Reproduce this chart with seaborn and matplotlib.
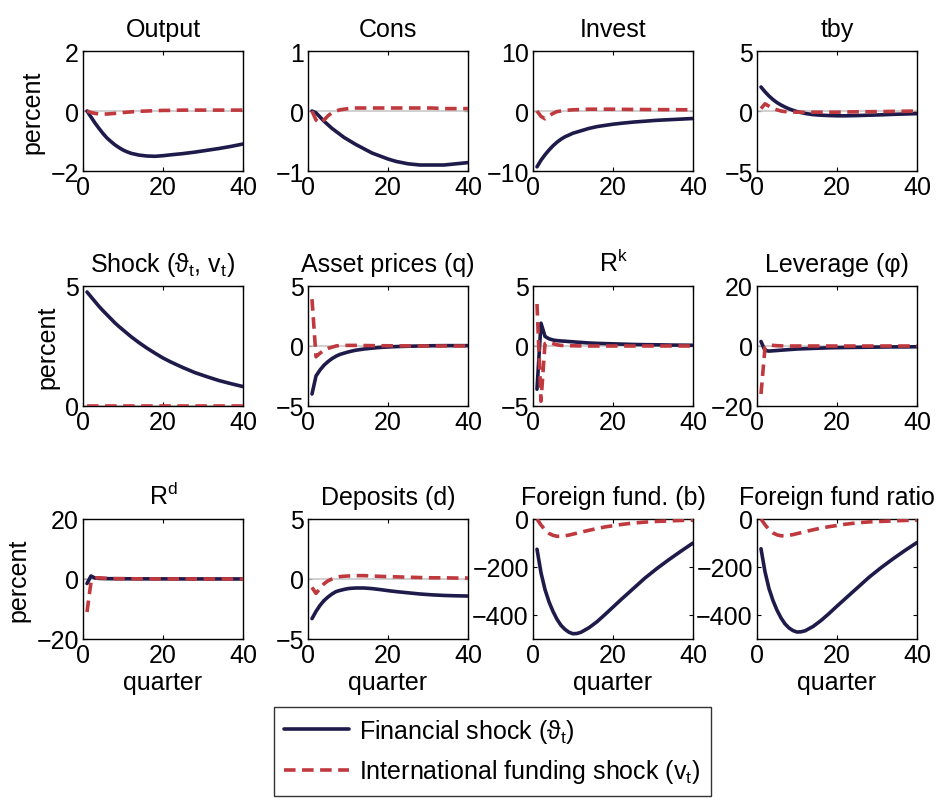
import pandas as pd
import seaborn as sns
import matplotlib.pyplot as plt
from matplotlib.lines import Line2D

quarters = [1, 2, 3, 4, 5, 6, 7, 8, 9, 10, 11, 12, 14, 16, 18, 20, 22, 25, 28, 31, 34, 37, 40]

titles = ["Output", "Cons", "Invest", "tby",
          r"Shock ($\vartheta_t$, $\mathrm{v}_t$)", "Asset prices (q)", r"R$^{\mathrm{k}}$", "Leverage (φ)",
          r"R$^{\mathrm{d}}$", "Deposits (d)", "Foreign fund. (b)", "Foreign fund ratio"]

# financial shock (theta_t)
fin_output = [0, -0.2, -0.4, -0.58, -0.75, -0.9, -1.02, -1.13, -1.22, -1.3, -1.36, -1.41, -1.47, -1.5,
              -1.51, -1.49, -1.46, -1.42, -1.37, -1.31, -1.25, -1.18, -1.1]
fin_cons = [0.0, -0.03, -0.1, -0.17, -0.23, -0.29, -0.34, -0.39, -0.44, -0.48, -0.52, -0.56, -0.63, -0.7,
            -0.75, -0.8, -0.84, -0.88, -0.9, -0.9, -0.9, -0.88, -0.86]
fin_invest = [-9.3, -8.2, -7.3, -6.5, -5.8, -5.2, -4.7, -4.3, -4.0, -3.7, -3.5, -3.3, -2.9, -2.6,
              -2.4, -2.2, -2.05, -1.85, -1.7, -1.55, -1.45, -1.35, -1.25]
fin_tby = [2.0, 1.6, 1.25, 0.95, 0.7, 0.5, 0.33, 0.18, 0.06, -0.05, -0.13, -0.2, -0.3, -0.35,
           -0.38, -0.4, -0.4, -0.38, -0.35, -0.32, -0.28, -0.25, -0.22]
fin_shock = [4.75, 4.55, 4.35, 4.15, 3.97, 3.8, 3.63, 3.46, 3.31, 3.17, 3.03, 2.89, 2.64, 2.41,
             2.2, 2.0, 1.83, 1.6, 1.39, 1.22, 1.06, 0.93, 0.81]
fin_q = [-4.0, -2.5, -2.0, -1.6, -1.3, -1.05, -0.85, -0.7, -0.6, -0.5, -0.42, -0.35, -0.25, -0.18,
         -0.12, -0.08, -0.05, -0.02, 0.0, 0.02, 0.03, 0.03, 0.03]
fin_rk = [-3.6, 1.9, 0.8, 0.6, 0.5, 0.45, 0.42, 0.4, 0.37, 0.35, 0.32, 0.3, 0.25, 0.22,
          0.2, 0.18, 0.16, 0.13, 0.11, 0.1, 0.08, 0.07, 0.06]
fin_lev = [1.5, -1.5, -1.7, -1.6, -1.5, -1.4, -1.3, -1.2, -1.1, -1.0, -0.95, -0.9, -0.8, -0.7,
           -0.6, -0.55, -0.5, -0.45, -0.4, -0.35, -0.3, -0.3, -0.25]
fin_rd = [-1.5, 1.0, 0.3, 0.2, 0.15, 0.12, 0.1, 0.1, 0.09, 0.08, 0.07, 0.07, 0.06, 0.05,
          0.05, 0.04, 0.04, 0.03, 0.03, 0.02, 0.02, 0.02, 0.02]
fin_dep = [-3.3, -2.7, -2.2, -1.8, -1.5, -1.25, -1.05, -0.95, -0.87, -0.8, -0.77, -0.75, -0.75, -0.8,
           -0.88, -0.97, -1.05, -1.15, -1.25, -1.32, -1.37, -1.4, -1.42]
fin_b = [-126, -224, -294, -345, -385, -418, -443, -460, -472, -478, -477, -472, -453, -428,
         -398, -367, -336, -291, -246, -206, -169, -134, -100]
fin_bratio = [-124, -220, -290, -340, -380, -412, -437, -454, -465, -471, -470, -466, -448, -423,
              -394, -363, -333, -288, -243, -203, -166, -131, -98]

# international funding shock (v_t)
int_output = [0, -0.05, -0.08, -0.1, -0.1, -0.1, -0.09, -0.08, -0.07, -0.05, -0.04, -0.03, -0.01, 0.0,
              0.01, 0.02, 0.02, 0.03, 0.03, 0.03, 0.03, 0.03, 0.03]
int_cons = [0.0, -0.15, -0.2, -0.15, -0.08, -0.03, 0.0, 0.02, 0.03, 0.04, 0.05, 0.05, 0.05, 0.05,
            0.05, 0.05, 0.05, 0.05, 0.05, 0.05, 0.04, 0.04, 0.04]
int_invest = [0.0, -0.9, -1.3, -0.8, -0.4, -0.1, 0.0, 0.1, 0.15, 0.2, 0.22, 0.25, 0.3, 0.3,
              0.3, 0.3, 0.28, 0.26, 0.25, 0.23, 0.22, 0.21, 0.2]
int_tby = [0.2, 0.6, 0.4, 0.2, 0.1, 0.0, -0.05, -0.05, -0.08, -0.1, -0.1, -0.1, -0.1, -0.1,
           -0.1, -0.1, -0.08, -0.07, -0.06, -0.05, -0.03, -0.02, 0.0]
int_shock = [0, 0, 0, 0, 0, 0, 0, 0, 0, 0, 0, 0, 0, 0, 0, 0, 0, 0, 0, 0, 0, 0, 0]
int_q = [3.9, -0.9, -0.6, -0.35, -0.2, -0.1, 0.0, 0.05, 0.05, 0.05, 0.05, 0.05, 0.04, 0.03,
         0.02, 0.02, 0.01, 0.01, 0.0, 0.0, 0.0, 0.0, 0.0]
int_rk = [3.5, -4.6, 0.2, 0.3, 0.2, 0.1, 0.05, 0.03, 0.02, 0.02, 0.01, 0.01, 0.0, 0.0,
          0.0, 0.0, 0.0, 0.0, 0.0, 0.0, 0.0, 0.0, 0.0]
int_lev = [-16, -0.5, 0.3, 0.2, 0.1, 0.05, 0.0, 0.0, 0.0, 0.0, 0.0, 0.0, 0.0, 0.0,
           0.0, 0.0, 0.0, 0.0, 0.0, 0.0, 0.0, 0.0, 0.0]
int_rd = [-11, -1.0, 0.3, 0.4, 0.3, 0.2, 0.15, 0.1, 0.1, 0.1, 0.09, 0.08, 0.06, 0.05,
          0.04, 0.03, 0.03, 0.02, 0.02, 0.01, 0.01, 0.01, 0.01]
int_dep = [-0.7, -1.2, -0.8, -0.4, -0.15, 0.0, 0.1, 0.2, 0.23, 0.25, 0.27, 0.28, 0.28, 0.25,
           0.22, 0.2, 0.18, 0.15, 0.12, 0.1, 0.1, 0.08, 0.08]
int_b = [0, -25, -45, -60, -68, -72, -72, -70, -67, -63, -59, -55, -47, -40,
         -33, -28, -23, -17, -13, -10, -8, -6, -5]
int_bratio = [0, -24, -44, -58, -66, -70, -70, -68, -65, -61, -57, -53, -45, -38,
              -32, -27, -22, -16, -12, -10, -8, -6, -5]

fin_series = [fin_output, fin_cons, fin_invest, fin_tby, fin_shock, fin_q, fin_rk, fin_lev,
              fin_rd, fin_dep, fin_b, fin_bratio]
int_series = [int_output, int_cons, int_invest, int_tby, int_shock, int_q, int_rk, int_lev,
              int_rd, int_dep, int_b, int_bratio]

ylims = [(-2, 2), (-1, 1), (-10, 10), (-5, 5), (0, 5), (-5, 5), (-5, 5), (-20, 20),
         (-20, 20), (-5, 5), (-500, 0), (-500, 0)]
yticks = [[-2, 0, 2], [-1, 0, 1], [-10, 0, 10], [-5, 0, 5], [0, 5], [-5, 0, 5], [-5, 0, 5], [-20, 0, 20],
          [-20, 0, 20], [-5, 0, 5], [-400, -200, 0], [-400, -200, 0]]

navy = "#1e1b4b"
red = "#c0393f"
fs = 18

sns.set_theme(style="white")
plt.rcParams["font.family"] = ["Liberation Sans", "DejaVu Sans"]
plt.rcParams["mathtext.fontset"] = "custom"
plt.rcParams["mathtext.rm"] = "Liberation Sans"
plt.rcParams["mathtext.it"] = "Liberation Sans"
plt.rcParams["mathtext.bf"] = "Liberation Sans"
plt.rcParams["axes.unicode_minus"] = True
for key in ["text.color", "axes.labelcolor", "xtick.color", "ytick.color", "axes.edgecolor"]:
    plt.rcParams[key] = "black"

W, H = 938, 803
fig = plt.figure(figsize=(W / 100, H / 100), dpi=100)

col_left = [83, 308, 533, 757]
row_top = [52, 287, 520]
aw, ah = 160, 120

for i in range(12):
    r, c = divmod(i, 4)
    ax = fig.add_axes([col_left[c] / W, 1 - (row_top[r] + ah) / H, aw / W, ah / H])
    ax.axhline(0, color="#c8c8c8", lw=1.2, zorder=1)
    df = pd.DataFrame({"quarter": quarters, "fin": fin_series[i], "int": int_series[i]})
    sns.lineplot(data=df, x="quarter", y="fin", ax=ax, color=navy, lw=2.6, zorder=3)
    sns.lineplot(data=df, x="quarter", y="int", ax=ax, color=red, lw=2.6,
                 linestyle=(0, (3.2, 1.8)), zorder=4)
    ax.set_xlim(0, 40)
    ax.set_ylim(*ylims[i])
    ax.set_xticks([0, 20, 40])
    ax.set_yticks(yticks[i])
    ax.tick_params(direction="in", length=3, width=0.8, labelsize=fs, pad=3,
                   top=True, right=True, bottom=True, left=True, colors="black")
    for s in ax.spines.values():
        s.set_color("black")
        s.set_linewidth(1.0)
    ax.set_title(titles[i], fontsize=fs, pad=10.5, color="black")
    ax.set_xlabel("quarter" if r == 2 else "", fontsize=fs, labelpad=2)
    ax.set_ylabel("percent" if c == 0 else "", fontsize=fs, labelpad=4)

handles = [Line2D([], [], color=navy, lw=2.6),
           Line2D([], [], color=red, lw=2.6, linestyle=(0, (3.2, 1.8)))]
labels = [r"Financial shock ($\vartheta_t$)", r"International funding shock ($\mathrm{v}_t$)"]
leg = fig.legend(handles, labels, loc="upper center", bbox_to_anchor=(0.525, 1 - 708 / H),
                 fontsize=fs, frameon=True, fancybox=False, edgecolor="black", borderaxespad=0,
                 handlelength=2.6, handletextpad=0.4, borderpad=0.4, labelspacing=0.5)
leg.get_frame().set_linewidth(1.0)

fig.savefig("out.png", dpi=100)
